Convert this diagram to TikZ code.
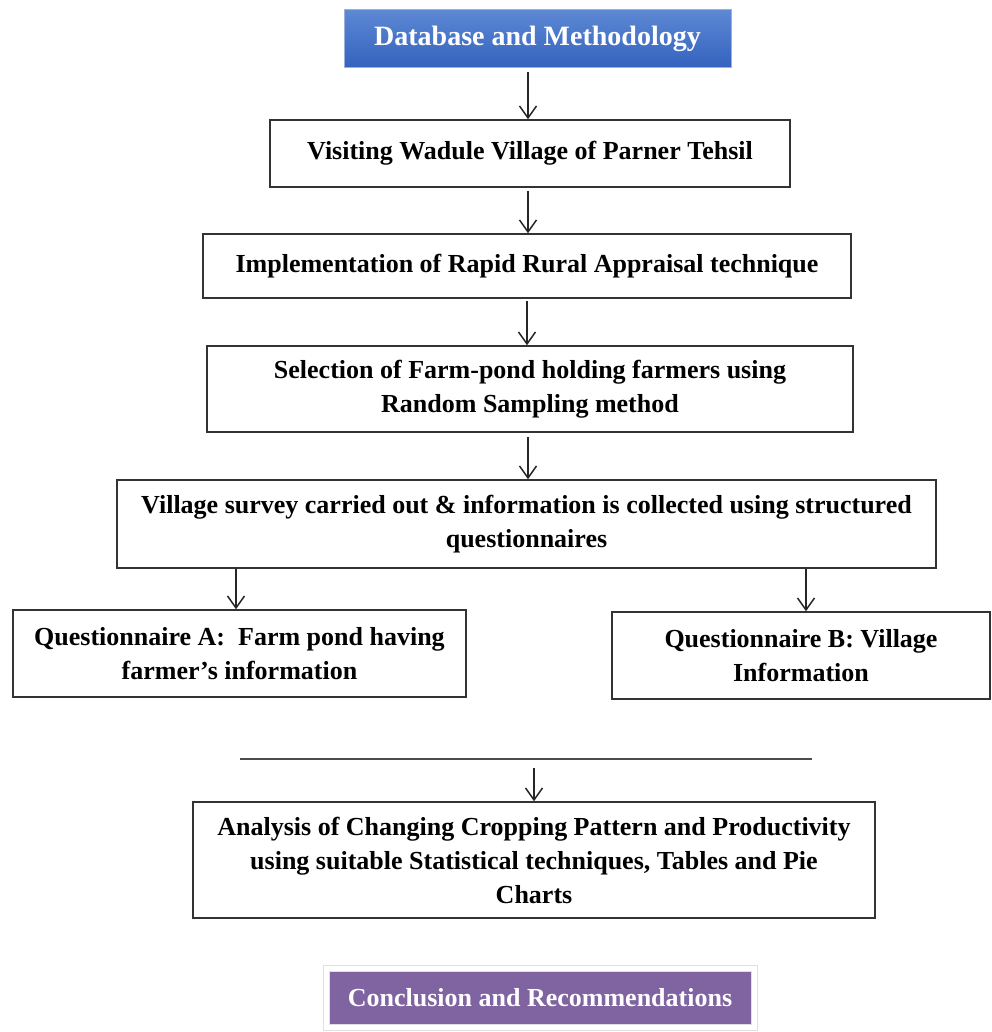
\documentclass[tikz,border=0pt]{standalone}
\usepackage{fontspec}
\setmainfont{Liberation Serif}
\usetikzlibrary{arrows.meta, calc}

\definecolor{titletop}{HTML}{5D88D4}
\definecolor{titlebot}{HTML}{3462BE}
\definecolor{titleedge}{HTML}{9AB1DD}
\definecolor{conclfill}{HTML}{8064A2}

\begin{document}
\begin{tikzpicture}[
  x=1pt, y=-1pt,
  >={Straight Barb[length=12pt, width=17pt, line width=1.5pt]},
  every node/.style={font=\bfseries\fontsize{26}{34}\selectfont}
]
\tikzset{
  box/.style    ={draw=black!80, line width=1.5pt, align=center,
                  inner sep=0pt, fill=white},
  head/.style   ={box, draw=titleedge, line width=1pt,
                  top color=titletop, bottom color=titlebot,
                  text=white, font=\bfseries\fontsize{28}{34}\selectfont},
  tail/.style   ={box, fill=conclfill, draw=black!12, double=white,
                  double distance=5pt, line width=1pt, text=white,
                  font=\bfseries\fontsize{26}{34}\selectfont},
  arr/.style    ={->, line width=1.5pt, black!85},
  bar/.style    ={line width=1.5pt, black!70}
}
\useasboundingbox (0,0) rectangle (991,1032);

%% ----- Top: heading and the chain of steps -----
\node[head, minimum width=387pt, minimum height=58pt] (title) at (537.5,39)
  {Database and Methodology};
\node[box, minimum width=520pt, minimum height=67pt] (visit) at (530,153.5)
  {Visiting Wadule Village of Parner Tehsil};
\node[box, minimum width=648pt, minimum height=64pt] (rra) at (527,266)
  {Implementation of Rapid Rural Appraisal technique};
\node[box, minimum width=646pt, minimum height=86pt] (select) at (530,389)
  {Selection of Farm-pond holding farmers using\\Random Sampling method};
\node[box, minimum width=819pt, minimum height=88pt] (survey) at (526.5,524)
  {Village survey carried out \& information is collected using structured\\questionnaires};

\draw[arr, shorten <=4pt] ([xshift=-2pt]title.south -| visit.north) -- ([xshift=-2pt]visit.north);
\draw[arr, shorten <=3pt] ([xshift=-2pt]visit.south) -- ([xshift=-2pt]visit.south |- rra.north);
\draw[arr, shorten <=2pt] (rra.south) -- (rra.south |- select.north);
\draw[arr, shorten <=4pt] ([xshift=-2pt]select.south) -- ([xshift=-2pt]select.south |- survey.north);

%% ----- Two questionnaires -----
\node[box, minimum width=453pt, minimum height=87pt] (qa) at (239.5,653.5)
  {Questionnaire A:~ Farm pond having\\farmer's information};
\node[box, minimum width=378pt, minimum height=87pt] (qb) at (801,655.5)
  {Questionnaire B: Village\\Information};

\draw[arr] ([xshift=-3.5pt]survey.south -| qa.north) -- ([xshift=-3.5pt]qa.north);
\draw[arr] ([xshift=5pt]survey.south -| qb.north) -- ([xshift=5pt]qb.north);

%% ----- Separator line and analysis -----
\coordinate (barL) at (240,759);
\coordinate (barR) at (812,759);
\draw[bar] (barL) -- (barR);

\node[box, minimum width=682pt, minimum height=116pt] (analysis) at (534,860)
  {Analysis of Changing Cropping Pattern and Productivity\\using suitable Statistical techniques, Tables and Pie\\Charts};
\draw[arr, shorten <=9pt] (barL -| analysis.north) -- (analysis.north);

%% ----- Closing box -----
\node[tail, minimum width=428pt, minimum height=59pt] (concl) at (540,997.5)
  {Conclusion and Recommendations};

\end{tikzpicture}
\end{document}
